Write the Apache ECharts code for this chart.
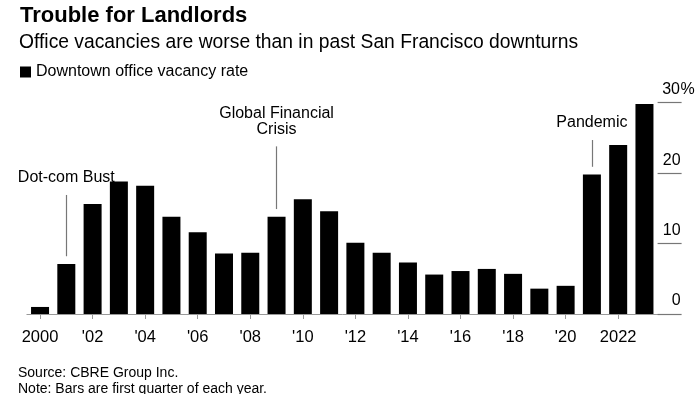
<!DOCTYPE html>
<html>
<head>
<meta charset="utf-8">
<script src="https://cdn.jsdelivr.net/npm/echarts@6/dist/echarts.min.js"></script>
<style>
html,body{margin:0;padding:0;background:#fff;}
#chart{width:700px;height:394px;}
</style>
</head>
<body>
<div id="chart"></div>
<script>
const years = ['2000','2001','2002','2003','2004','2005','2006','2007','2008','2009','2010','2011','2012','2013','2014','2015','2016','2017','2018','2019','2020','2021','2022','2023'];
const vacancyRate = [1.0, 7.1, 15.6, 18.8, 18.2, 13.8, 11.6, 8.6, 8.7, 13.8, 16.3, 14.6, 10.1, 8.7, 7.3, 5.6, 6.1, 6.4, 5.7, 3.6, 4.0, 19.8, 24.0, 29.8];
const xTickLabels = ['2000', "'02", "'04", "'06", "'08", "'10", "'12", "'14", "'16", "'18", "'20", '2022'];
const yTicks = [0, 10, 20, 30];
const annotationYears = ['2001', '2009', '2021'];
const annotationFrom = [8.2, 14.9, 20.9];
const annotationTo = [16.9, 23.8, 24.7];
const annotationText = ['Dot-com Bust', 'Global Financial\nCrisis', 'Pandemic'];

const FONT = 'Liberation Sans, Arial, Helvetica, sans-serif';
const chart = echarts.init(document.getElementById('chart'), null, {renderer: 'canvas'});

const markLineData = annotationYears.map((y, i) => [
  {coord: [y, annotationFrom[i]], label: {formatter: annotationText[i]}},
  {coord: [y, annotationTo[i]]}
]);

chart.setOption({
  animation: false,
  backgroundColor: '#fff',
  textStyle: {fontFamily: FONT},
  title: [
    {text: 'Trouble for Landlords', left: 15, top: 0,
     textStyle: {fontFamily: FONT, fontSize: 22, fontWeight: 'bold', color: '#000'}},
    {text: 'Office vacancies are worse than in past San Francisco downturns', left: 14, top: 28,
     textStyle: {fontFamily: FONT, fontSize: 19.3, fontWeight: 'normal', color: '#000'}},
    {text: 'Source: CBRE Group Inc.', left: 13, top: 361,
     textStyle: {fontFamily: FONT, fontSize: 14, fontWeight: 'normal', color: '#000'}},
    {text: 'Note: Bars are first quarter of each year.', left: 13, top: 377,
     textStyle: {fontFamily: FONT, fontSize: 14, fontWeight: 'normal', color: '#000'}}
  ],
  legend: {
    left: 20, top: 64, padding: 0, icon: 'rect', itemWidth: 11, itemHeight: 11, itemGap: 10,
    textStyle: {fontFamily: FONT, fontSize: 16, color: '#000', padding: [0,0,0,0]},
    data: ['Downtown office vacancy rate']
  },
  grid: {left: 26.9, right: 42.4, top: 102.7, bottom: 80, containLabel: false},
  xAxis: {
    type: 'category', data: years,
    axisLine: {show: true, lineStyle: {color: '#999', width: 1}},
    axisTick: {show: true, alignWithLabel: true, interval: 1, length: 5, lineStyle: {color: '#999'}},
    axisLabel: {
      interval: 1, margin: 15, fontFamily: FONT, fontSize: 16.5, color: '#000',
      formatter: (v, idx) => xTickLabels[idx / 2]
    }
  },
  yAxis: {
    type: 'value', position: 'right', min: 0, max: 30, interval: 10,
    axisLine: {show: false},
    axisTick: {show: true, length: 24, lineStyle: {color: '#777', width: 1.2}},
    splitLine: {show: false},
    axisLabel: {
      margin: 4, align: 'left', verticalAlign: 'bottom', padding: [0, 0, 5, 0],
      formatter: v => v === 30 ? '{n|' + v + '}{p|%}' : '{n|' + v + '}',
      rich: {
        n: {width: 19, align: 'right', fontFamily: FONT, fontSize: 16, color: '#000'},
        p: {fontFamily: FONT, fontSize: 16, color: '#000'}
      }
    }
  },
  series: [{
    name: 'Downtown office vacancy rate',
    type: 'bar', data: vacancyRate, barWidth: 18,
    itemStyle: {color: '#000'},
    markLine: {
      silent: true, symbol: ['none', 'none'], animation: false,
      lineStyle: {color: '#777', width: 1.2, type: 'solid'},
      label: {show: true, position: 'end', distance: 9, fontFamily: FONT, fontSize: 16, color: '#000', lineHeight: 16, align: 'center'},
      emphasis: {disabled: true},
      data: markLineData
    }
  }]
});
</script>
</body>
</html>
